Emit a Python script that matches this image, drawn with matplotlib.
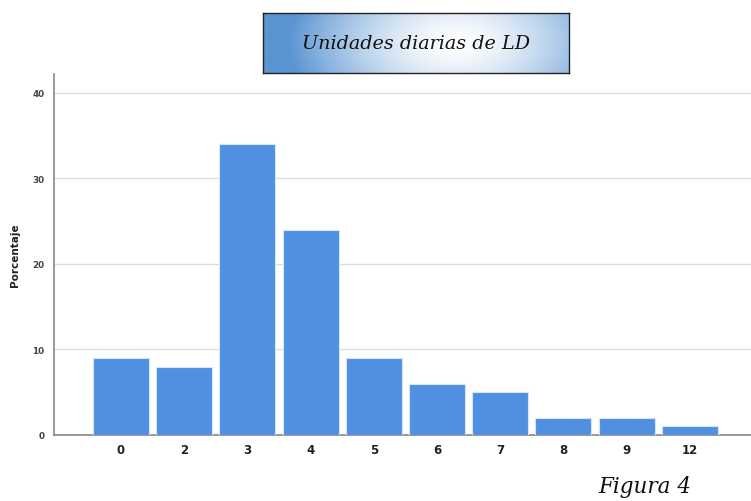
import matplotlib
matplotlib.use("Agg")
import matplotlib.pyplot as plt
import numpy as np

categories = ["0", "2", "3", "4", "5", "6", "7", "8", "9", "12"]
porcentaje = [9, 8, 34, 24, 9, 6, 5, 2, 2, 1]
yticks = [0, 10, 20, 30, 40]

W, H = 751, 502
fig = plt.figure(figsize=(W / 100, H / 100), dpi=100)
fig.patch.set_facecolor("white")

ax = fig.add_axes([54 / W, 1 - 436 / H, 1 - 54 / W, (436 - 75) / H])
x = np.arange(len(categories))
ax.bar(x, porcentaje, width=0.886, color="#4F90E3", edgecolor="#D6E6FA", linewidth=0.8, zorder=3)
ax.set_xlim(-1.06, 9.97)
ax.set_ylim(0, 42.2)
ax.set_yticks(yticks)
ax.set_yticklabels([str(v) for v in yticks], fontsize=6.3, fontweight="bold", color="#444444")
ax.set_xticks(x)
ax.set_xticklabels(categories, fontsize=8.5, fontweight="bold", color="#222222")
ax.tick_params(axis="both", length=0)
ax.tick_params(axis="y", pad=7)
ax.tick_params(axis="x", pad=6)
ax.grid(axis="y", color="#DDDDDD", linewidth=1.0, zorder=0)
for s in ["top", "right"]:
    ax.spines[s].set_visible(False)
for s in ["left", "bottom"]:
    ax.spines[s].set_color("#888888")
    ax.spines[s].set_linewidth(1.2)
ax.set_ylabel("Porcentaje", fontsize=7.5, fontweight="bold", color="#222222", labelpad=9)

# Title box with gradient
bx = fig.add_axes([263 / W, 1 - 74 / H, 306 / W, 60 / H])
nx, ny = 400, 80
gx = np.linspace(0, 1, nx)
gy = np.linspace(0, 1, ny)
GX, GY = np.meshgrid(gx, gy)
d = np.sqrt(((GX - 0.63) / 0.55) ** 2 + ((GY - 0.5) / 1.6) ** 2)
t = np.clip(d / 1.0, 0, 1) ** 1.5
c_edge = np.array([0x5A, 0x94, 0xD2]) / 255
c_mid = np.array([1.0, 1.0, 1.0])
img = c_mid[None, None, :] * (1 - t[..., None]) + c_edge[None, None, :] * t[..., None]
bx.imshow(img, aspect="auto", extent=[0, 1, 0, 1], interpolation="bilinear")
bx.set_xlim(0, 1)
bx.set_ylim(0, 1)
bx.set_xticks([])
bx.set_yticks([])
for s in bx.spines.values():
    s.set_color("#222222")
    s.set_linewidth(1.0)
bx.text(0.5, 0.5, "Unidades diarias de LD", ha="center", va="center",
        fontsize=13.8, style="italic", family="DejaVu Serif", color="#111111")

fig.text(645 / W, 1 - 487 / H, "Figura 4", ha="center", va="center",
         fontsize=15.5, style="italic", family="DejaVu Serif", color="#111111")

fig.savefig("out.png", dpi=100, facecolor="white")
